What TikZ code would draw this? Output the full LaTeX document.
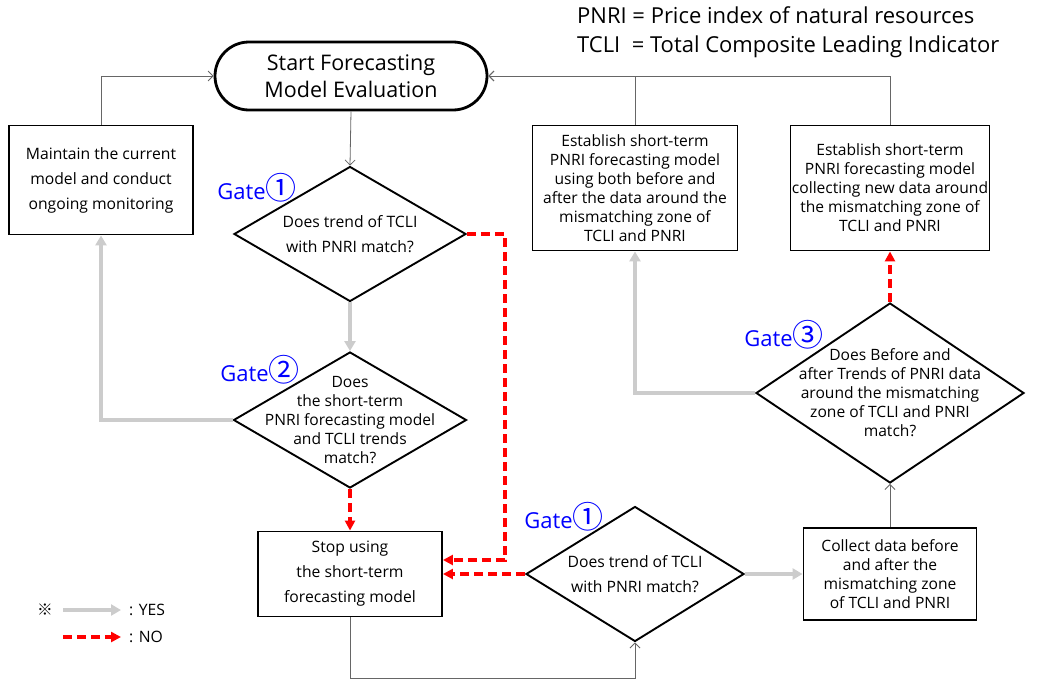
\documentclass[tikz,border=0pt]{standalone}
\usepackage{fontspec}
\setmainfont{Open Sans}
\newfontfamily\cjk{Noto Sans CJK SC}
\usetikzlibrary{shapes.geometric,arrows.meta}

\begin{document}
\begin{tikzpicture}[x=1pt,y=-1pt,font=\fontsize{15.7}{25}\selectfont,box/.style={draw,line width=1.9pt,align=center,inner sep=0pt},ask/.style={diamond,draw,line width=1.9pt,inner sep=0pt},dense/.style={align=center,font=\fontsize{15.6}{19}\selectfont},gate/.style={text=blue,inner sep=0pt,font=\fontsize{22}{22}\selectfont},yes/.style={-{Triangle[length=10pt,width=11pt]},line width=4.5pt,draw=black!20},no/.style={-{Triangle[length=10pt,width=10pt]},line width=3.2pt,draw=red,dash pattern=on 9pt off 5pt},flow/.style={-{Straight Barb[length=5pt,width=10pt]},line width=0.8pt,draw=black!60}]
\useasboundingbox (0,0) rectangle (1057,680);
\node[draw,line width=2.8pt,rounded corners=34pt,minimum width=272pt,minimum height=68pt,align=center,font=\fontsize{21.5}{27}\selectfont] (start) at (351,76) {Start Forecasting\\Model Evaluation};
\node[anchor=west,align=left,inner sep=0pt,font=\fontsize{22}{29}\selectfont] (abbr) at (577,32) {PNRI = Price index of natural resources\\TCLI\ \ = Total Composite Leading Indicator};
\node[box,minimum width=184pt,minimum height=109pt] (maintain) at (101,180) {Maintain the current\\model and conduct\\ongoing monitoring};
\node[ask,minimum width=232pt,minimum height=135pt,label={[align=center]center:{Does trend of TCLI\\with PNRI match?}}] (g1) at (350,234) {};
\node[ask,minimum width=233pt,minimum height=136pt,label={[dense]center:{Does\\the short-term\\PNRI forecasting model\\and TCLI trends\\match?}}] (g2) at (350,420) {};
\node[box,minimum width=184pt,minimum height=85pt] (stop) at (350,574) {Stop using\\the short-term\\forecasting model};
\node[ask,minimum width=218pt,minimum height=135pt,label={[align=center]center:{Does trend of TCLI\\with PNRI match?}}] (g1b) at (635,574) {};
\node[box,dense,minimum width=173pt,minimum height=92pt] (collect) at (890,574) {Collect data before\\and after the\\mismatching zone\\of TCLI and PNRI};
\node[ask,minimum width=268pt,minimum height=180pt,label={[dense]center:{Does Before and\\after Trends of PNRI data\\around the mismatching\\zone of TCLI and PNRI\\match?}}] (g3) at (890,393) {};
\node[box,dense,minimum width=205pt,minimum height=125pt] (est1) at (635,188) {Establish short-term\\PNRI forecasting model\\using both before and\\after the data around the\\mismatching zone of\\TCLI and PNRI};
\node[box,dense,minimum width=199pt,minimum height=125pt] (est2) at (890,188) {Establish short-term\\PNRI forecasting model\\collecting new data around\\the mismatching zone of\\TCLI and PNRI};
% gate labels
\node[gate] (gl1) at (257,188) {Gate{\cjk\fontsize{31}{31}\selectfont ①}};
\node[gate] (gl2) at (260,370) {Gate{\cjk\fontsize{31}{31}\selectfont ②}};
\node[gate] (gl1b) at (564,517) {Gate{\cjk\fontsize{31}{31}\selectfont ①}};
\node[gate] (gl3) at (784,335) {Gate{\cjk\fontsize{31}{31}\selectfont ③}};
% connectors
\draw[flow] (maintain.north) |- (start.west);
\draw[flow] (est1.north) |- (start.east);
\draw[flow] (est2.north) |- (start.east);
\draw[flow] (start.south) -- (g1.north);
\draw[yes] (g1.south) -- (g2.north);
\draw[yes] (g2.west) -| (maintain.south);
\draw[no] (g2.south) -- (stop.north);
\draw[no] (g1.east) -- ++(38,0) |- ([yshift=14pt]stop.east);
\draw[no] (g1b.west) -- (stop.east);
\draw[flow] (stop.south) -- ++(0,61) -| (g1b.south);
\draw[yes] (g1b.east) -- (collect.west);
\draw[flow] (collect.north) -- (g3.south);
\draw[yes] (g3.west) -| (est1.south);
\draw[no] (g3.north) -- (est2.south);
% legend
\node (mark) at (45,610) {\cjk ※};
\coordinate (ly1) at (63,610);
\coordinate (ly2) at (121,610);
\coordinate (ln1) at (63,637);
\coordinate (ln2) at (121,637);
\node[anchor=west,inner sep=0pt] (lyes) at (129,610) {: YES};
\node[anchor=west,inner sep=0pt] (lno) at (129,637) {: NO};
\draw[yes,line width=3.5pt] (ly1) -- (ly2);
\draw[no] (ln1) -- (ln2);
\end{tikzpicture}
\end{document}
